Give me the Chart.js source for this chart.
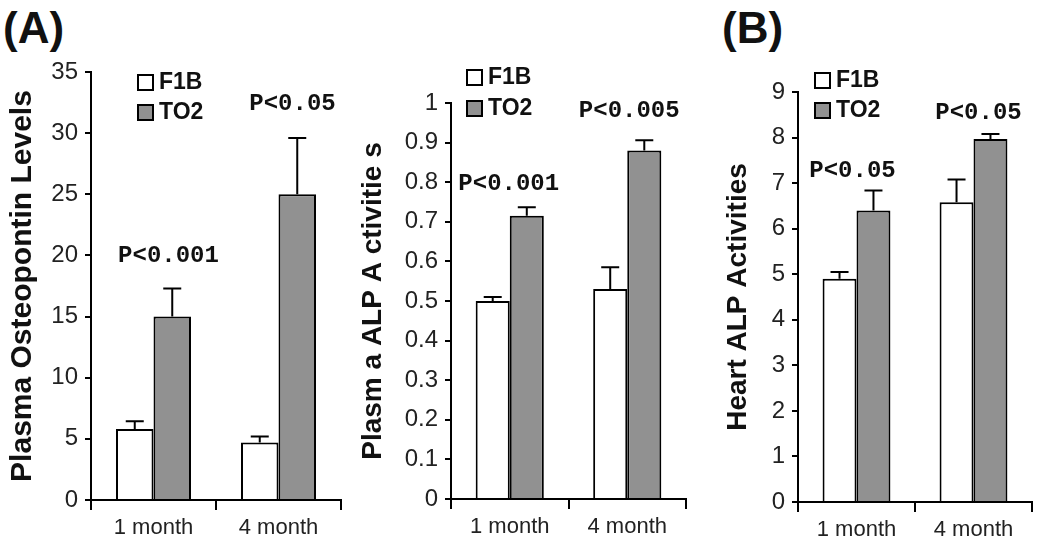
<!DOCTYPE html>
<html>
<head>
<meta charset="utf-8">
<script src="https://cdn.jsdelivr.net/npm/chart.js@4.4.1/dist/chart.umd.min.js"></script>
<style>
  body { margin: 0; background: #fff; width: 1050px; height: 547px; position: relative; overflow: hidden;
         font-family: "Liberation Sans", Arial, sans-serif; }
  canvas { position: absolute; top: 0; }
  .panel { position: absolute; top: 6px; font-size: 44px; font-weight: bold; line-height: 1; color: #111; }
</style>
</head>
<body>
<div class="panel" style="left:3px">(A)</div>
<div class="panel" style="left:722px">(B)</div>
<canvas id="myChart1" width="350" height="547" style="left:0px"></canvas>
<canvas id="myChart2" width="350" height="547" style="left:350px"></canvas>
<canvas id="myChart3" width="350" height="547" style="left:700px"></canvas>
<script>
// shared
const months = ["1 month", "4 month"];
const groups = ["F1B", "TO2"];

// plasma osteopontin
const opn_f1b = [5.8, 4.7];
const opn_f1b_err = [0.65, 0.5];
const opn_to2 = [15.0, 25.0];
const opn_to2_err = [2.3, 4.6];
const opn_p = ["P<0.001", "P<0.05"];

// plasma ALP
const palp_f1b = [0.50, 0.53];
const palp_f1b_err = [0.01, 0.055];
const palp_to2 = [0.715, 0.88];
const palp_to2_err = [0.022, 0.026];
const palp_p = ["P<0.001", "P<0.005"];

// heart ALP
const halp_f1b = [4.9, 6.58];
const halp_f1b_err = [0.15, 0.5];
const halp_to2 = [6.4, 7.97];
const halp_to2_err = [0.44, 0.11];
const halp_p = ["P<0.05", "P<0.05"];

const FONT = '"Liberation Sans", Arial, sans-serif';
const GREY = '#919191';

// upper error bars only, like the original
const errorBars = {
  id: 'errorBars',
  afterDatasetsDraw(chart) {
    const ctx = chart.ctx, y = chart.scales.y;
    ctx.save();
    ctx.strokeStyle = '#000';
    ctx.lineWidth = 2;
    chart.data.datasets.forEach((ds, i) => {
      chart.getDatasetMeta(i).data.forEach((bar, j) => {
        const top = y.getPixelForValue(ds.data[j] + ds.err[j]);
        ctx.beginPath();
        ctx.moveTo(bar.x, bar.y);
        ctx.lineTo(bar.x, top);
        ctx.moveTo(bar.x - 9, top);
        ctx.lineTo(bar.x + 9, top);
        ctx.stroke();
      });
    });
    ctx.restore();
  }
};

// p-value notes over each month
const pNotes = {
  id: 'pNotes',
  afterDraw(chart, args, o) {
    const ctx = chart.ctx, x = chart.scales.x, y = chart.scales.y;
    ctx.save();
    ctx.font = 'bold 24px "Liberation Mono", "Courier New", monospace';
    ctx.fillStyle = '#111';
    ctx.textAlign = 'center';
    ctx.textBaseline = 'middle';
    o.texts.forEach((t, i) => {
      ctx.fillText(t, x.getPixelForValue(i) + o.dx[i], y.getPixelForValue(o.at[i]));
    });
    ctx.restore();
  }
};

// small stacked legend
const boxLegend = {
  id: 'boxLegend',
  afterDraw(chart, args, o) {
    const ctx = chart.ctx;
    ctx.save();
    ctx.font = 'bold 23px ' + FONT;
    ctx.textBaseline = 'middle';
    chart.data.datasets.forEach((ds, i) => {
      const cy = o.y + i * o.gap;
      ctx.fillStyle = ds.backgroundColor;
      ctx.fillRect(o.x, cy - 7, 15, 15);
      ctx.strokeStyle = '#000';
      ctx.lineWidth = 2;
      ctx.strokeRect(o.x, cy - 7, 15, 15);
      ctx.fillStyle = '#111';
      ctx.fillText(ds.label, o.x + 21, cy + 1);
    });
    ctx.restore();
  }
};

function makeChart(id, f1b, f1bErr, to2, to2Err, p, s) {
  return new Chart(document.getElementById(id), {
    type: 'bar',
    data: {
      labels: months,
      datasets: [
        { label: groups[0], data: f1b, err: f1bErr, backgroundColor: '#ffffff',
          borderColor: '#000', borderWidth: 2, categoryPercentage: s.cat, barPercentage: 1 },
        { label: groups[1], data: to2, err: to2Err, backgroundColor: GREY,
          borderColor: '#000', borderWidth: 2, categoryPercentage: s.cat, barPercentage: 1 }
      ]
    },
    options: {
      responsive: false,
      animation: false,
      devicePixelRatio: 1,
      layout: { padding: { left: 0, top: s.top, right: s.right, bottom: 0 } },
      plugins: {
        legend: { display: false },
        tooltip: { enabled: false },
        pNotes: { texts: p, at: s.pAt, dx: s.pDx },
        boxLegend: s.legend
      },
      scales: {
        x: {
          afterFit: sc => { sc.height = s.xh; },
          grid: { offset: true, drawOnChartArea: false, tickLength: 10, color: '#000', lineWidth: 2 },
          border: { color: '#000', width: 2 },
          ticks: { color: '#222', padding: 5, font: { family: FONT, size: 22 } }
        },
        y: {
          min: 0, max: s.max,
          afterFit: sc => { sc.width = s.yw; },
          grid: { drawOnChartArea: false, tickLength: 6, color: '#000', lineWidth: 2 },
          border: { color: '#000', width: 2 },
          ticks: {
            stepSize: s.step, color: '#222', padding: 7,
            font: { family: FONT, size: 24 },
            callback: v => String(Math.round(v * 10) / 10)
          },
          title: {
            display: true, text: s.title, color: '#111',
            padding: { top: s.tpad, bottom: 0 },
            font: { family: FONT, size: s.tsize, weight: 'bold' }
          }
        }
      }
    },
    plugins: [errorBars, pNotes, boxLegend]
  });
}

var myChart1 = makeChart('myChart1', opn_f1b, opn_f1b_err, opn_to2, opn_to2_err, opn_p, {
  max: 35, step: 5, top: 72, right: 9, yw: 91, xh: 47, cat: 0.6,
  title: 'Plasma Osteopontin Levels', tsize: 30, tpad: 5,
  pAt: [19.95, 32.4], pDx: [15, 14],
  legend: { x: 138, y: 82, gap: 30 }
});

var myChart2 = makeChart('myChart2', palp_f1b, palp_f1b_err, palp_to2, palp_to2_err, palp_p, {
  max: 1, step: 0.1, top: 103, right: 14, yw: 101, xh: 48, cat: 0.58,
  title: 'Plasm a ALP A ctivitie s', tsize: 28, tpad: 6,
  pAt: [0.796, 0.98], pDx: [-1, 2],
  legend: { x: 117, y: 77, gap: 31 }
});

var myChart3 = makeChart('myChart3', halp_f1b, halp_f1b_err, halp_to2, halp_to2_err, halp_p, {
  max: 9, step: 1, top: 92, right: 18, yw: 98, xh: 45, cat: 0.58,
  title: 'Heart ALP Activities', tsize: 28, tpad: 21,
  pAt: [7.27, 8.53], pDx: [-4, 5],
  legend: { x: 115, y: 80, gap: 30 }
});
</script>
</body>
</html>
